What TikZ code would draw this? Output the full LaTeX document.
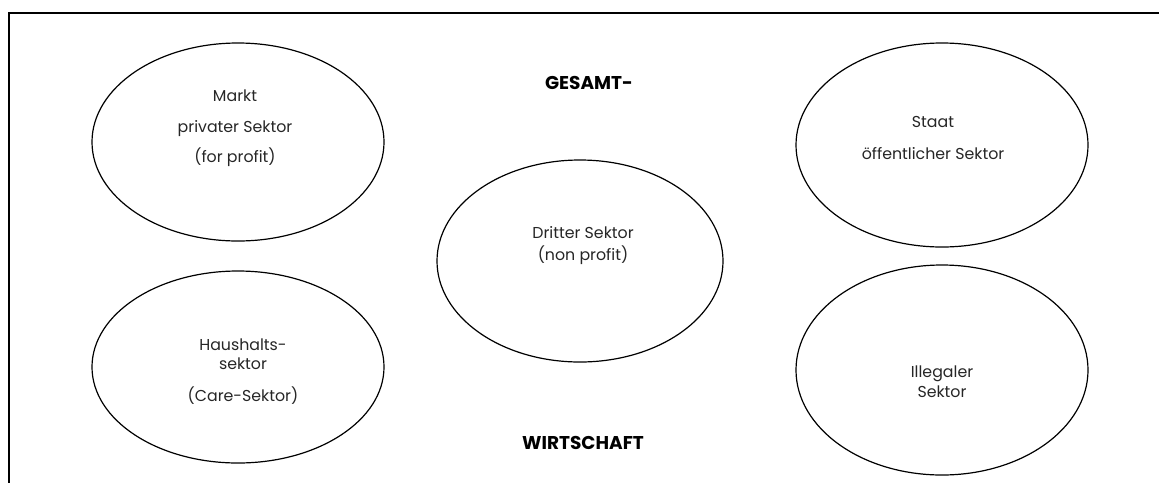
\documentclass[tikz,border=0pt]{standalone}
\usepackage{fontspec}
\setmainfont{Poppins}
\usetikzlibrary{shapes.geometric}
\tikzset{
  sektor/.style={draw, ellipse, line width=1.2pt, inner sep=0pt},
  txt/.style={align=center, font=\fontsize{15.8}{19}\selectfont, text=black!85},
  titel/.style={font=\fontsize{18.5}{22}\selectfont\bfseries}
}
\begin{document}
\begin{tikzpicture}[x=1pt,y=-1pt]
      \useasboundingbox (0,0) rectangle (1159,483);
      % rahmen
      \draw[line width=1.3pt] (1159,13) -- (9,13) -- (9,483);
      % sektoren
      \node[sektor, minimum width=292pt, minimum height=198pt] (markt) at (238,142) {};
      \node[sektor, minimum width=292pt, minimum height=204pt] (staat) at (942,145) {};
      \node[sektor, minimum width=286pt, minimum height=202pt] (dritter) at (580,261) {};
      \node[sektor, minimum width=292pt, minimum height=192pt] (haushalt) at (238,367) {};
      \node[sektor, minimum width=292pt, minimum height=210pt] (illegal) at (942,370) {};
      % beschriftungen
      \node[txt] (markt-txt) at (235,128) {Markt\\[12pt]privater Sektor\\[11pt](for profit)};
      \node[txt] (staat-txt) at (933,138) {Staat\\[13pt]öffentlicher Sektor};
      \node[txt] (dritter-txt) at (583,246) {Dritter Sektor\\[3pt](non profit)};
      \node[txt] (haushalt-txt) at (243,372) {Haushalts-\\sektor\\[13pt](Care-Sektor)};
      \node[txt] (illegal-txt) at (942,382) {Illegaler\\[1pt]Sektor};
      \node[titel] (gesamt) at (589,83) {GESAMT-};
      \node[titel] (wirtschaft) at (583,443) {WIRTSCHAFT};
    \end{tikzpicture}
\end{document}
